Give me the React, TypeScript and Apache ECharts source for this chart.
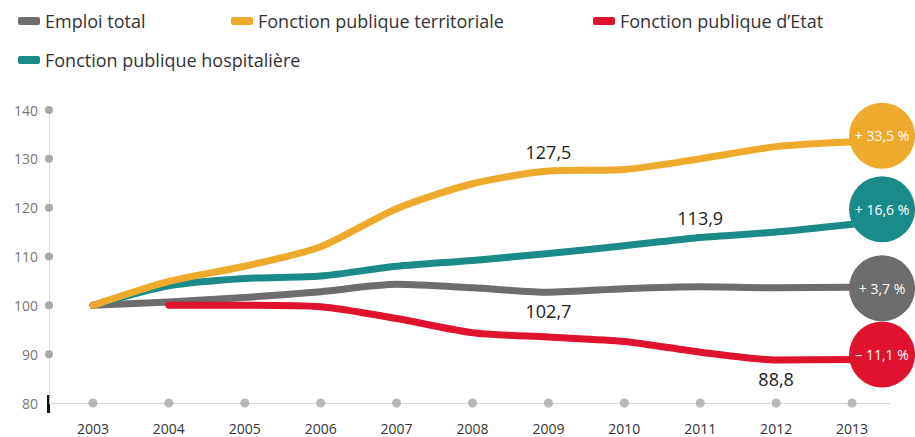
import React, { useEffect, useRef } from "react";
import * as echarts from "echarts";

const years = ["2003", "2004", "2005", "2006", "2007", "2008", "2009", "2010", "2011", "2012", "2013"];
const emploiTotal = [100, 100.7, 101.6, 102.8, 104.3, 103.6, 102.7, 103.4, 103.8, 103.6, 103.7];
const fpTerritoriale = [100, 104.9, 108, 112, 119.8, 124.9, 127.5, 127.8, 130, 132.5, 133.5];
const fpHospitaliere = [100, 104, 105.5, 106, 108, 109.2, 110.6, 112.2, 113.9, 115, 116.6];
const fpEtat = [null, 100, 100, 99.7, 97.3, 94.4, 93.5, 92.6, 90.4, 88.8, 88.9];
const axisBase = years.map(() => 80);

const seriesNames = [
  "Emploi total",
  "Fonction publique territoriale",
  "Fonction publique d\u2019Etat",
  "Fonction publique hospitalière",
];
const endTexts = ["+ 3,7 %", "+ 33,5 %", "\u2013 11,1 %", "+ 16,6 %"];
const colors = ["#6d6d6d", "#eeaa2c", "#e0132f", "#1b8b89"];

const fmt = (v: number) => v.toFixed(1).replace(".", ",");

function buildData(
  values: (number | null)[],
  annotIdx: number,
  annotPos: "top" | "bottom",
  endText: string,
  color: string,
  endDy: number
) {
  const last = values.length - 1;
  return values.map((v, i) => {
    if (i === annotIdx && v != null) {
      return {
        value: v,
        label: {
          show: true,
          position: annotPos,
          distance: 9,
          formatter: fmt(v),
          fontSize: 18,
          color: "#222",
          fontFamily: "Open Sans",
        },
      };
    }
    if (i === last) {
      return {
        value: v,
        label: {
          show: true,
          position: [31, 1 + endDy],
          formatter: endText,
          backgroundColor: color,
          width: 66,
          height: 66,
          borderRadius: 33,
          align: "center",
          verticalAlign: "middle",
          lineHeight: 66,
          color: "#fff",
          fontSize: 14,
          fontWeight: 500,
          fontFamily: "Open Sans",
        },
      };
    }
    return v;
  });
}

const legendText = { fontSize: 18, color: "#333", fontFamily: "Open Sans" };
const legendItem = (name: string, left: number, top: number) => ({
  data: [name],
  left,
  top,
  itemWidth: 22,
  itemHeight: 8,
  itemGap: 8,
  icon: "roundRect",
  textStyle: legendText,
  selectedMode: false,
});

export default function App() {
  const ref = useRef<HTMLDivElement>(null);
  useEffect(() => {
    if (!ref.current) return;
    const chart = echarts.init(ref.current, null, { renderer: "svg" });
    const lineBase = (name: string, color: string, data: any[], z: number) => ({
      name,
      type: "line",
      data,
      smooth: 0.25,
      symbol: "circle",
      symbolSize: 2,
      showSymbol: true,
      connectNulls: false,
      z,
      lineStyle: { color, width: 7, cap: "round", join: "round" },
      itemStyle: { color },
      emphasis: { disabled: true },
      labelLayout: { hideOverlap: false },
    });
    chart.setOption({
      animation: false,
      backgroundColor: "#ffffff",
      textStyle: { fontFamily: "Open Sans" },
      legend: [
        legendItem(seriesNames[0], 13, 7),
        legendItem(seriesNames[1], 226, 7),
        legendItem(seriesNames[2], 588, 7),
        legendItem(seriesNames[3], 13, 46),
      ],
      grid: { left: 55, right: 25, top: 110, bottom: 34 },
      xAxis: {
        type: "category",
        data: years,
        boundaryGap: true,
        axisLine: { lineStyle: { color: "#d8d8d8", width: 1 } },
        axisTick: { show: false },
        axisLabel: { color: "#333", fontSize: 14, lineHeight: 16, margin: 17, fontFamily: "Open Sans" },
      },
      yAxis: {
        type: "value",
        min: 80,
        max: 140,
        interval: 10,
        offset: 6,
        axisLine: { show: true, lineStyle: { color: "#d0d0d0", type: "dotted", width: 1 } },
        axisTick: { show: false },
        splitLine: { show: false },
        axisLabel: {
          margin: -4,
          formatter: (v: number) => (v === 80 ? `{v|${v}}{s| }` : `{v|${v}}{d| }`),
          rich: {
            v: { color: "#777", fontSize: 14, fontFamily: "Open Sans", padding: [0, 7, 0, 0] },
            d: { width: 8, height: 8, borderRadius: 4, backgroundColor: "#a8a8a8" },
            s: { width: 8, height: 8 },
          },
        },
      },
      graphic: [
        { type: "rect", left: 47, top: 395, shape: { width: 3, height: 18 }, style: { fill: "#111" } },
        { type: "rect", left: 49, top: 403, shape: { width: 6, height: 1 }, style: { fill: "#d8d8d8" } },
      ],
      series: [
        {
          name: "axisDots",
          type: "scatter",
          data: axisBase,
          symbolSize: 9,
          itemStyle: { color: "#a8a8a8" },
          silent: true,
          z: 1,
        },
        lineBase(seriesNames[0], colors[0], buildData(emploiTotal, 6, "bottom", endTexts[0], colors[0], 1), 3),
        lineBase(seriesNames[3], colors[3], buildData(fpHospitaliere, 8, "top", endTexts[3], colors[3], -15), 4),
        lineBase(seriesNames[2], colors[2], buildData(fpEtat, 9, "bottom", endTexts[2], colors[2], -5), 5),
        lineBase(seriesNames[1], colors[1], buildData(fpTerritoriale, 6, "top", endTexts[1], colors[1], -6), 6),
      ],
    });
    return () => chart.dispose();
  }, []);
  return <div ref={ref} style={{ width: 915, height: 437, position: "absolute", left: 0, top: 0 }} />;
}
